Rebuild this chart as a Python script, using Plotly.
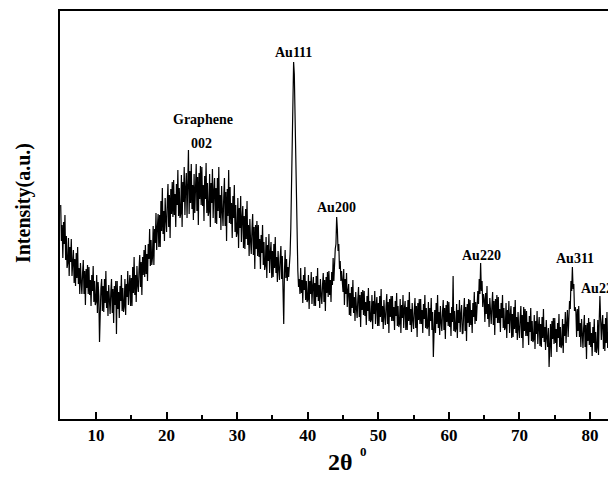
import plotly.graph_objects as go

# 2-theta sampling start / step (degrees) and intensity (a.u.)
theta_start = 5.0
theta_step = 0.1

intensity = [
    214, 178, 194, 161, 197, 175, 204, 159, 183, 151,   # 5
    156, 181, 143, 172, 157, 180, 143, 161, 169, 136,   # 6
    160, 133, 166, 141, 172, 135, 151, 125, 156, 137,   # 7
    125, 146, 159, 125, 148, 114, 150, 131, 154, 125,   # 8
    152, 124, 139, 113, 144, 128, 153, 117, 138, 114,   # 9
    117, 144, 106, 137, 123, 77, 112, 131, 140, 108,    # 10
    133, 107, 140, 116, 148, 111, 128, 103, 134, 116,   # 11
    105, 127, 140, 106, 130, 96, 133, 114, 138, 85,     # 12
    138, 110, 127, 101, 133, 118, 144, 108, 131, 107,   # 13
    112, 140, 104, 135, 122, 148, 114, 133, 144, 113,   # 14
    141, 113, 152, 126, 162, 124, 144, 117, 153, 134,   # 15
    127, 150, 164, 132, 157, 124, 162, 144, 169, 142,   # 16
    174, 145, 165, 138, 175, 160, 190, 153, 179, 154,   # 17
    161, 193, 154, 190, 176, 206, 169, 192, 205, 172,   # 18
    204, 172, 218, 188, 231, 185, 208, 178, 221, 199,   # 19
    187, 217, 235, 192, 224, 181, 230, 205, 237, 202,   # 20
    239, 204, 225, 192, 235, 214, 249, 203, 231, 201,   # 21
    205, 244, 192, 237, 217, 252, 204, 231, 246, 201,   # 22
    237, 269, 205, 248, 216, 255, 210, 234, 199, 245,   # 23
    206, 236, 255, 208, 242, 194, 246, 220, 253, 214,   # 24
    252, 213, 234, 198, 243, 220, 256, 206, 236, 203,   # 25
    207, 245, 192, 236, 216, 250, 201, 228, 241, 196,   # 26
    231, 195, 241, 208, 252, 201, 224, 189, 233, 208,   # 27
    193, 222, 241, 193, 227, 178, 230, 203, 249, 196,   # 28
    232, 195, 216, 181, 223, 201, 234, 187, 214, 182,   # 29
    186, 221, 171, 211, 191, 223, 177, 201, 213, 171,   # 30
    203, 170, 210, 180, 218, 174, 194, 163, 200, 178,   # 31
    165, 190, 205, 164, 192, 150, 194, 170, 198, 163,   # 32
    194, 162, 180, 150, 184, 166, 194, 154, 177, 149,   # 33
    153, 182, 141, 174, 158, 185, 146, 166, 177, 141,   # 34
    168, 142, 175, 151, 182, 146, 162, 137, 168, 150,   # 35
    139, 161, 173, 140, 163, 129, 95, 146, 169, 141,    # 36
    160, 138, 152, 142, 150, 165, 190, 230, 285, 330,   # 37
    357, 345, 300, 240, 190, 160, 148, 132, 140, 125,   # 38
    151, 126, 139, 116, 144, 129, 152, 119, 138, 117,   # 39
    119, 144, 110, 138, 125, 147, 115, 133, 142, 113,   # 40
    136, 113, 143, 122, 151, 118, 134, 111, 140, 124,   # 41
    115, 134, 146, 117, 139, 108, 142, 126, 147, 122,   # 42
    148, 124, 139, 117, 147, 134, 161, 138, 160, 170,   # 43
    175, 202, 190, 168, 175, 150, 158, 138, 148, 130,   # 44
    127, 150, 114, 140, 125, 146, 112, 128, 135, 104,   # 45
    126, 103, 132, 111, 139, 106, 122, 98, 127, 111,    # 46
    101, 120, 132, 102, 124, 92, 127, 109, 129, 104,    # 47
    128, 103, 117, 94, 123, 108, 131, 98, 118, 97,      # 48
    99, 124, 90, 118, 105, 128, 95, 114, 122, 93,       # 49
    116, 93, 123, 102, 130, 97, 113, 90, 119, 103,      # 50
    94, 113, 125, 95, 117, 86, 120, 102, 123, 98,       # 51
    123, 98, 112, 89, 118, 103, 126, 93, 113, 92,       # 52
    95, 120, 86, 114, 101, 124, 91, 110, 118, 89,       # 53
    112, 89, 119, 98, 127, 94, 110, 87, 116, 99,        # 54
    90, 109, 121, 91, 113, 82, 116, 99, 120, 95,        # 55
    120, 95, 109, 86, 115, 100, 124, 91, 111, 90,       # 56
    92, 117, 83, 111, 98, 121, 89, 107, 62, 87,         # 57
    109, 86, 116, 95, 124, 91, 107, 84, 113, 97,        # 58
    88, 107, 119, 89, 111, 80, 114, 97, 118, 93,        # 59
    117, 92, 106, 83, 112, 97, 143, 88, 108, 87,        # 60
    90, 115, 81, 109, 96, 119, 87, 105, 114, 85,        # 61
    86, 108, 121, 88, 112, 78, 115, 96, 120, 92,        # 62
    119, 94, 109, 86, 116, 102, 127, 95, 117, 98,       # 63
    108, 128, 115, 140, 125, 156, 128, 138, 112, 125,   # 64
    120, 97, 126, 105, 133, 100, 115, 92, 121, 105,     # 65
    95, 114, 127, 94, 118, 84, 120, 101, 124, 96,       # 66
    122, 96, 110, 87, 116, 101, 124, 91, 111, 89,       # 67
    91, 116, 81, 109, 95, 118, 86, 104, 113, 81,        # 68
    105, 82, 112, 90, 119, 86, 102, 79, 107, 90,        # 69
    81, 101, 113, 81, 104, 71, 112, 88, 110, 83,        # 70
    108, 83, 97, 74, 103, 87, 111, 78, 98, 77,          # 71
    79, 104, 70, 98, 85, 108, 75, 93, 102, 73,          # 72
    95, 72, 102, 81, 110, 77, 92, 69, 99, 81,           # 73
    72, 91, 52, 73, 95, 62, 98, 80, 101, 75,            # 74
    101, 76, 90, 67, 96, 81, 105, 72, 92, 71,           # 75
    74, 100, 66, 95, 83, 107, 76, 96, 109, 82,          # 76
    98, 118, 110, 138, 128, 152, 130, 135, 108, 112,    # 77
    107, 82, 110, 88, 113, 82, 96, 72, 100, 83,         # 78
    71, 92, 104, 72, 94, 60, 96, 78, 101, 74,           # 79
    97, 72, 86, 63, 92, 76, 100, 67, 87, 66,            # 80
    71, 99, 64, 98, 123, 100, 79, 96, 104, 70,          # 81
    95, 68, 101, 76, 107, 71, 87, 61, 93, 74,           # 82
    64, 86, 98, 66, 89, 55, 91, 72, 96, 68,             # 83
]

theta = [round(theta_start + theta_step * i, 2) for i in range(len(intensity))]

# peak labels: text, 2-theta, intensity position
label_text = ["Graphene", "002", "Au111", "Au200", "Au220", "Au311", "Au222"]
label_theta = [25.1, 24.9, 38.0, 44.1, 64.6, 77.9, 78.4]
label_y = [300, 276, 367, 212, 164, 161, 131]
label_anchor = ["center", "center", "center", "center", "center", "center", "left"]

x_ticks = [10, 20, 30, 40, 50, 60, 70, 80]

fig = go.Figure()
fig.add_trace(go.Scatter(
    x=theta, y=intensity, mode="lines",
    line=dict(color="black", width=1.2),
    showlegend=False, hoverinfo="skip",
))

for t, xx, yy, anc in zip(label_text, label_theta, label_y, label_anchor):
    fig.add_annotation(
        x=xx, y=yy, text="<b>%s</b>" % t, showarrow=False,
        xanchor=anc, yanchor="middle",
        font=dict(family="Liberation Serif", size=14, color="black"),
    )

fig.add_annotation(
    xref="paper", yref="paper", x=0.505, y=-0.105,
    text="<b>2θ</b>", showarrow=False, xanchor="center", yanchor="middle",
    font=dict(family="Liberation Serif", size=24, color="black"),
)
fig.add_annotation(
    xref="paper", yref="paper", x=0.545, y=-0.08,
    text="<b>0</b>", showarrow=False, xanchor="center", yanchor="middle",
    font=dict(family="Liberation Serif", size=13, color="black"),
)
fig.add_annotation(
    xref="paper", yref="paper", x=-0.066, y=0.53,
    text="<b>Intensity(a.u.)</b>", showarrow=False, textangle=-90,
    xanchor="center", yanchor="middle",
    font=dict(family="Liberation Serif", size=20, color="black"),
)

# page body adds an 8px offset, so the figure is sized to end at the window edge
fig.update_layout(
    width=608, height=469,
    margin=dict(l=52, r=0, t=3, b=58),
    paper_bgcolor="white", plot_bgcolor="white",
    xaxis=dict(
        range=[4.9, 83.68], showgrid=False, zeroline=False,
        showline=True, linecolor="black", linewidth=1.5, mirror=True,
        tickmode="array", tickvals=x_ticks, ticktext=[str(v) for v in x_ticks],
        ticks="inside", ticklen=7, tickwidth=1.5, tickcolor="black",
        minor=dict(dtick=5, tick0=5, ticks="inside", ticklen=4, tickwidth=1.5, tickcolor="black", showgrid=False),
        tickfont=dict(family="Liberation Serif", size=17, color="black", weight="bold"),
    ),
    yaxis=dict(
        range=[0, 408], showgrid=False, zeroline=False,
        showline=True, linecolor="black", linewidth=1.5, mirror=False,
        showticklabels=False, ticks="",
    ),
)

fig.write_html("out.html")
